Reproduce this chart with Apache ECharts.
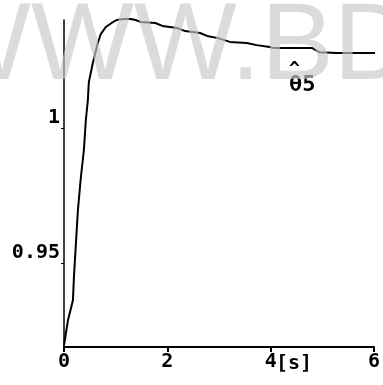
<!DOCTYPE html>
<html>
<head>
<meta charset="utf-8">
<script src="https://cdn.jsdelivr.net/npm/echarts@6/dist/echarts.min.js"></script>
<style>
  html, body { margin: 0; padding: 0; background: #fff; }
  #chart { width: 383px; height: 385px; }
</style>
</head>
<body>
<div id="chart"></div>
<script>
// time [s] and estimated parameter theta5
const timeS = [0, 0.077, 0.173, 0.192, 0.231, 0.269, 0.327, 0.385, 0.423, 0.462, 0.481, 0.558, 0.654, 0.712, 0.808, 0.923, 1.019, 1.154, 1.288, 1.385, 1.481, 1.769, 1.904, 2.192, 2.346, 2.635, 2.769, 2.981, 3.212, 3.538, 3.731, 3.981, 4.077, 4.808, 4.942, 5.288, 6.154]
const theta5 = [0.9196, 0.9289, 0.9363, 0.9448, 0.9574, 0.9696, 0.9819, 0.9919, 1.003, 1.0104, 1.017, 1.0241, 1.0315, 1.0348, 1.0374, 1.0389, 1.04, 1.0404, 1.0404, 1.04, 1.0393, 1.0389, 1.0378, 1.037, 1.0359, 1.0352, 1.0341, 1.0333, 1.0319, 1.0315, 1.0307, 1.03, 1.0296, 1.0296, 1.0281, 1.0278, 1.0278]
const yTicks = [0.95, 1]

const chart = echarts.init(document.getElementById('chart'))
const labelFont = { color: '#000', fontFamily: 'DejaVu Sans Mono', fontWeight: 'bold', fontSize: 20 }

const option = {
  animation: false,
  backgroundColor: '#fff',
  grid: { left: 64, right: 8, top: 20, bottom: 38 },
  xAxis: {
    type: 'value',
    min: 0,
    max: 6,
    interval: 2,
    axisLine: { lineStyle: { color: '#000', width: 2 } },
    axisTick: { show: true, length: 5, lineStyle: { color: '#000', width: 2 } },
    axisLabel: Object.assign({ margin: 5 }, labelFont),
    splitLine: { show: false }
  },
  yAxis: {
    type: 'value',
    min: 0.919,
    max: 1.04,
    axisLine: { show: true, lineStyle: { color: '#000', width: 1.5 } },
    axisTick: { show: true, length: 3, customValues: yTicks, lineStyle: { color: '#000' } },
    axisLabel: Object.assign({
      customValues: yTicks,
      margin: 4,
      verticalAlign: 'bottom',
      formatter: v => String(+(+v).toFixed(2))
    }, labelFont),
    splitLine: { show: false }
  },
  series: [{
    type: 'line',
    data: timeS.map((t, i) => [t, theta5[i]]),
    showSymbol: false,
    clip: false,
    lineStyle: { color: '#000', width: 2 }
  }],
  graphic: [
    {
      type: 'text', x: 276, y: 354, z: 10,
      style: { text: '[s]', font: 'bold 20px "DejaVu Sans Mono"', fill: '#000' }
    },
    {
      type: 'text', x: 289, y: 74, z: 10,
      style: { text: 'θ5', font: 'bold 22px "DejaVu Sans Mono"', fill: '#000' }
    },
    {
      type: 'text', x: 289, y: 60, z: 10,
      style: { text: '^', font: 'bold 18px "DejaVu Sans Mono"', fill: '#000' }
    },
    {
      type: 'text', x: -72, y: 49, z: 100, silent: true,
      style: {
        text: 'WWW.BD',
        font: '109px "Liberation Sans"',
        fill: 'rgba(200,200,200,0.66)',
        verticalAlign: 'middle'
      }
    }
  ]
}

chart.setOption(option)
</script>
</body>
</html>
